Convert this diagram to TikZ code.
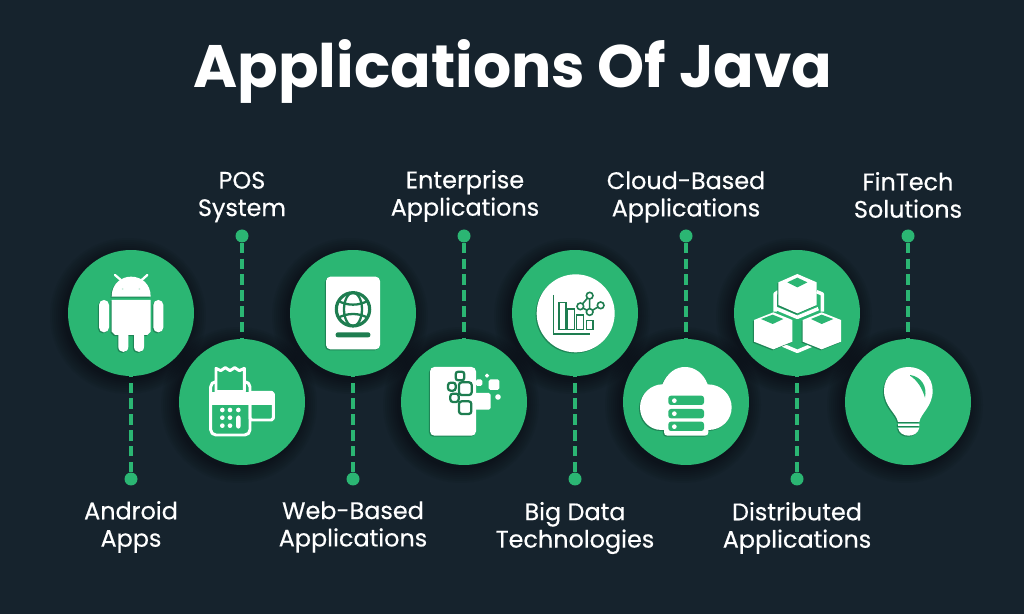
\documentclass[tikz,border=0pt]{standalone}
\usepackage{fontspec}
\setmainfont{Poppins}
\newfontfamily\labfont[FakeBold=0.4]{Poppins}
\usepackage{xcolor}
\usepackage{tikz}
\definecolor{bg}{HTML}{16232D}
\definecolor{leaf}{HTML}{2BB673}
\definecolor{ink}{HTML}{1E7D50}
\definecolor{gshade}{HTML}{1E8556}
\tikzset{
  disc/.style={circle, fill=leaf, minimum size=2.52cm, inner sep=0pt},
  dot/.style={circle, fill=leaf, minimum size=0.26cm, inner sep=0pt},
  link/.style={draw=leaf, line width=1.9pt, dash pattern=on 6pt off 3pt},
  lab/.style={text=white, align=center, font=\labfont\fontsize{13.6}{15.6}\selectfont},
  head/.style={text=white, font=\bfseries\fontsize{34.1}{40}\selectfont},
  iconw/.style={fill=white, preaction={fill=gshade, transform canvas={xshift=-0.6pt,yshift=-0.6pt}}},
  iconl/.style={draw=white, line width=1.7pt, line join=round},
  inkl/.style={draw=ink, line width=1.3pt},
  inkt/.style={draw=ink, line width=0.9pt},
  zoomA/.style={shift={(60,230)}, scale=1/3},
  zoomB/.style={shift={(285,230)}, scale=1/3},
  zoomC/.style={shift={(505,230)}, scale=1/3},
  zoomD/.style={shift={(725,230)}, scale=1/3},
}
\begin{document}
\begin{tikzpicture}[x=0.02cm, y=-0.02cm]
  \useasboundingbox (0,0) rectangle (1024,614);
  \fill[bg] (0,0) rectangle (1024,614);
  \node[head] (title) at (513,71) {Applications Of Java};

  % soft shade round the discs
  \foreach \cx/\cy in {131/313,242/402,353/313,464/402,575/313,686/402,797/313,908/402}
    \foreach \rr in {64,66,...,78}
      \fill[black, opacity=0.05] (\cx-3,\cy+3) circle (\rr);

  \node[disc] (android) at (131,313) {};
  \node[disc] (pos) at (242,402) {};
  \node[disc] (web) at (353,313) {};
  \node[disc] (enterprise) at (464,402) {};
  \node[disc] (bigdata) at (575,313) {};
  \node[disc] (cloud) at (686,402) {};
  \node[disc] (distributed) at (797,313) {};
  \node[disc] (fintech) at (908,402) {};

  \node[dot] (androiddot) at (131,479) {};
  \node[dot] (posdot) at (242,236) {};
  \node[dot] (webdot) at (353,479) {};
  \node[dot] (enterprisedot) at (464,236) {};
  \node[dot] (bigdatadot) at (575,479) {};
  \node[dot] (clouddot) at (686,236) {};
  \node[dot] (distributeddot) at (797,479) {};
  \node[dot] (fintechdot) at (908,236) {};

  \draw[link] (androiddot) -- (android);
  \draw[link] (posdot) -- (pos);
  \draw[link] (webdot) -- (web);
  \draw[link] (enterprisedot) -- (enterprise);
  \draw[link] (bigdatadot) -- (bigdata);
  \draw[link] (clouddot) -- (cloud);
  \draw[link] (distributeddot) -- (distributed);
  \draw[link] (fintechdot) -- (fintech);

  \node[lab] (androidlab) at (131,527) {Android\\Apps};
  \node[lab] (poslab) at (242,197) {POS\\System};
  \node[lab] (weblab) at (353,527) {Web-Based\\Applications};
  \node[lab] (enterpriselab) at (465,196) {Enterprise\\Applications};
  \node[lab] (bigdatalab) at (575,528) {Big Data\\Technologies};
  \node[lab] (cloudlab) at (686,197) {Cloud-Based\\Applications};
  \node[lab] (distributedlab) at (797,528) {Distributed\\Applications};
  \node[lab] (fintechlab) at (908,195) {FinTech\\Solutions};

  % android
  \begin{scope}[zoomA]
    \draw[white, line width=1.3pt, line cap=round] (165,135) -- (185,152) (262,135) -- (243,152);
    \fill[iconw]
      (155,200) .. controls (155,160) and (185,140) .. (213,140) .. controls (243,140) and (272,160) .. (272,200) -- cycle
      (155,210) -- (272,210) -- (272,305) -- (262,315) -- (252,315) -- (252,350)
      .. controls (252,371) and (222,371) .. (222,350) -- (222,315) -- (205,315) -- (205,350)
      .. controls (205,371) and (175,371) .. (175,350) -- (175,315) -- (165,315) -- (155,305) -- cycle
      [rounded corners=2.8pt]
      (117,210) rectangle (147,307) (280,210) rectangle (310,307);
    \fill[leaf!25!white] (188,177) circle (3) (238,177) circle (3);
  \end{scope}

  % card reader
  \begin{scope}[zoomA]
    \fill[white] (570,487) rectangle (640,525);
    \draw[iconl, rounded corners=1pt] (570,487) rectangle (640,570);
    \draw[iconl, rounded corners=3pt] (452,455) rectangle (570,615);
    \fill[white] (452,487) rectangle (570,525);
    \draw[iconl, fill=leaf] (468,485) -- (468,415) -- (482,422) -- (496,413) -- (510,422) -- (524,413) -- (538,422) -- (553,415) -- (553,485) -- cycle;
    \fill[white] (487,540) circle (7) (510,540) circle (7) (535,540) circle (7)
      (487,563) circle (7) (510,563) circle (7) (487,587) circle (7) (510,587) circle (7);
    \fill[white, rounded corners=1.5pt] (528,556) rectangle (542,596);
  \end{scope}

  % passport
  \begin{scope}[zoomB]
    \fill[iconw, rounded corners=2.5pt] (123,140) rectangle (285,358);
    \fill[ink, rounded corners=1.2pt] (152,307) rectangle (256,322);
    \draw[inkl, line width=1.8pt] (204,238) circle (50);
    \draw[inkl] (204,238) ellipse (27 and 50)
      (159,212) .. controls (185,228) and (223,228) .. (249,212)
      (159,264) .. controls (185,248) and (223,248) .. (249,264);
  \end{scope}

  % digital blocks
  \begin{scope}[zoomB]
    \fill[iconw, rounded corners=2.5pt] (435,411) rectangle (573,617);
    \fill[white, rounded corners=1pt]
      (567,489) rectangle (617,539) (611,448) rectangle (643,480)
      (572,448) rectangle (592,468) (600,431) rectangle (612,443) (631,493) rectangle (647,509);
    \draw[inkl, fill=white, rounded corners=1.5pt] (512,425) rectangle (538,451);
    \draw[inkl, fill=white, rounded corners=1.5pt] (489,458) rectangle (512,482);
    \draw[inkl, fill=white, rounded corners=1.5pt] (496,491) rectangle (521,516);
    \draw[inkl, fill=white, rounded corners=1.5pt] (522,514) rectangle (559,552);
    \draw[inkl, fill=white, rounded corners=1.5pt] (522,457) rectangle (560,495);
  \end{scope}

  % chart
  \begin{scope}[zoomC]
    \fill[iconw] (212,250) circle (117);
    \draw[inkt] (145,195) -- (145,312) -- (255,312);
    \draw[inkt] (162,218) rectangle (183,298) (188,237) rectangle (208,298)
      (215,255) rectangle (236,298) (244,272) rectangle (264,298);
    \draw[inkt] (226,229) -- (254,197) -- (254,246) -- (287,226) (226,229) -- (254,246);
    \draw[inkt, fill=white] (254,197) circle (10) (226,229) circle (10)
      (254,246) circle (10) (287,226) circle (10);
  \end{scope}

  % cloud servers
  \begin{scope}[zoomC]
    \fill[iconw] (470,600) .. controls (430,600) and (405,567) .. (405,532)
      .. controls (405,490) and (440,463) .. (472,463)
      .. controls (488,427) and (513,411) .. (540,411)
      .. controls (570,411) and (595,430) .. (608,463)
      .. controls (650,463) and (680,495) .. (680,532)
      .. controls (680,570) and (650,600) .. (610,600)
      -- (610,607) .. controls (610,613) and (606,617) .. (600,617)
      -- (487,617) .. controls (481,617) and (477,613) .. (477,607) -- (477,600) -- cycle;
    \fill[leaf, rounded corners=1.5pt] (490,497) rectangle (597,525)
      (490,537) rectangle (597,565) (490,575) rectangle (597,603);
    \fill[white] (508,512) circle (7) (508,551) circle (7) (508,590) circle (7);
  \end{scope}

  % cubes
  \begin{scope}[zoomD]
    \draw[iconl, line width=2pt] (160,185) -- (150,192) -- (150,245)
      (275,185) -- (292,192) -- (292,245)
      (155,236) -- (217,262) -- (280,236)
      (172,345) -- (217,364) -- (262,345);
    \fill[iconw]
      (217,132) -- (275,157) -- (275,225) -- (217,250) -- (160,225) -- (160,157) -- cycle
      (145,247) -- (202,270) -- (202,335) -- (145,358) -- (87,335) -- (87,270) -- cycle
      (290,247) -- (348,270) -- (348,335) -- (290,358) -- (233,335) -- (233,270) -- cycle;
    \fill[leaf] (217,143) -- (247,157) -- (217,172) -- (187,157) -- cycle
      (143,254) -- (175,267) -- (143,282) -- (108,267) -- cycle
      (290,254) -- (325,267) -- (290,282) -- (258,267) -- cycle;
  \end{scope}

  % bulb
  \begin{scope}[zoomD]
    \fill[iconw] (519,576) .. controls (515,550) and (477,530) .. (477,482)
      .. controls (477,440) and (510,411) .. (550,411)
      .. controls (590,411) and (623,440) .. (623,482)
      .. controls (623,530) and (587,550) .. (583,576) -- cycle
      (519,581) rectangle (583,588)
      (519,593) -- (583,593) .. controls (580,610) and (565,617) .. (551,617) .. controls (537,617) and (522,610) .. (519,593) -- cycle;
    \fill[leaf] (555,435) .. controls (590,440) and (607,470) .. (600,503) .. controls (590,470) and (575,450) .. (555,437) -- cycle;
  \end{scope}
\end{tikzpicture}
\end{document}
